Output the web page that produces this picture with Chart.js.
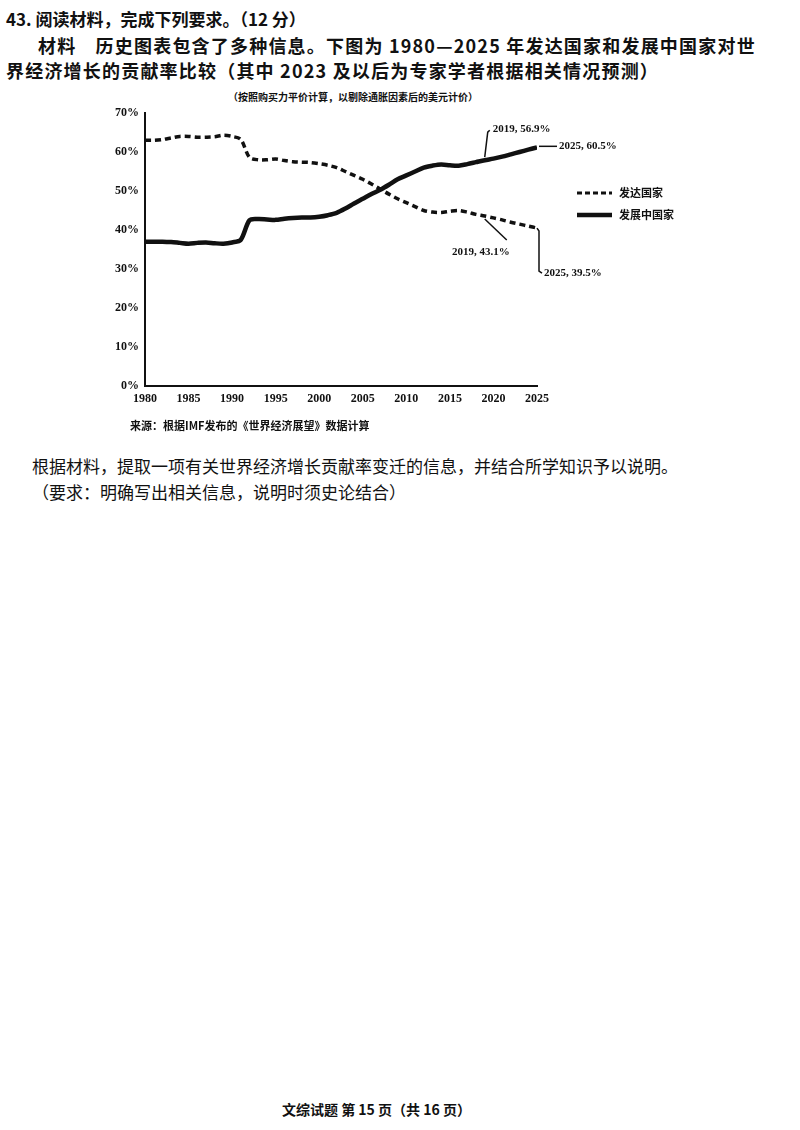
<!DOCTYPE html>
<html><head><meta charset="utf-8">
<script src="https://cdn.jsdelivr.net/npm/chart.js@4"></script>
<style>
body{margin:0;background:#fff;width:800px;height:1130px;position:relative;font-family:"Noto Sans CJK SC";color:#111;}
.t{position:absolute;white-space:nowrap;font-weight:bold;}
#wrap{position:absolute;left:95px;top:100px;width:600px;height:320px;}
</style></head><body>
<div class="t" style="left:6px;top:6px;font-size:17px;">43. 阅读材料，完成下列要求。（12 分）</div>
<div class="t" style="left:38px;top:32px;font-size:18px;letter-spacing:1.2px;">材料　历史图表包含了多种信息。下图为 1980—2025 年发达国家和发展中国家对世</div>
<div class="t" style="left:6px;top:57px;font-size:18px;letter-spacing:1.2px;">界经济增长的贡献率比较（其中 2023 及以后为专家学者根据相关情况预测）</div>
<div class="t" style="left:228px;top:89px;font-size:10px;">（按照购买力平价计算，以剔除通胀因素后的美元计价）</div>
<div id="wrap"><canvas id="c"></canvas></div>
<div class="t" style="left:130px;top:417px;font-size:11px;">来源：根据IMF发布的《世界经济展望》数据计算</div>
<div class="t" style="left:32px;top:453px;font-size:17px;font-weight:normal;">根据材料，提取一项有关世界经济增长贡献率变迁的信息，并结合所学知识予以说明。</div>
<div class="t" style="left:32px;top:479px;font-size:17px;font-weight:normal;">（要求：明确写出相关信息，说明时须史论结合）</div>
<div class="t" style="left:282px;top:1099px;font-size:14px;">文综试题 第 15 页（共 16 页）</div>
<script>
const years=[1980,1981,1982,1983,1984,1985,1986,1987,1988,1989,1990,1991,1992,1993,1994,1995,1996,1997,1998,1999,2000,2001,2002,2003,2004,2005,2006,2007,2008,2009,2010,2011,2012,2013,2014,2015,2016,2017,2018,2019,2020,2021,2022,2023,2024,2025];
const developed=[63,63,63.2,63.6,64,64,63.8,63.8,63.9,64.3,64,63.2,58.6,58,58,58.2,57.8,57.5,57.4,57.3,57,56.6,56,55,54,53,51.8,50.5,49.2,48,47,46,45,44.6,44.5,44.8,45,44.6,44,43.6,43.1,42.6,42,41.5,41,40.5];
const developing=[37,37,37,36.9,36.7,36.5,36.7,36.8,36.6,36.5,36.8,37.5,42.5,42.8,42.7,42.6,42.9,43.1,43.2,43.2,43.4,43.8,44.4,45.5,46.8,48,49.2,50.3,51.6,53,54,55,56,56.5,56.8,56.6,56.5,56.9,57.4,57.9,58.3,58.8,59.4,60,60.6,61.2];
const xTicks=[1980,1985,1990,1995,2000,2005,2010,2015,2020,2025];
const yTicks=[0,10,20,30,40,50,60,70];
const legendLabels=['发达国家','发展中国家'];
const notes=[[2019,56.9,'2019, 56.9%'],[2025,60.5,'2025, 60.5%'],[2019,43.1,'2019, 43.1%'],[2025,39.5,'2025, 39.5%']];
const extra={id:'extra',afterDraw(ch){
 const c=ch.ctx,x=ch.scales.x,y=ch.scales.y;
 c.save();c.fillStyle='#111';c.strokeStyle='#111';c.lineWidth=1.5;
 c.font='bold 11px "Liberation Serif"';c.textBaseline='middle';
 let px=x.getPixelForValue(2019),py=y.getPixelForValue(developing[39]);
 c.beginPath();c.moveTo(px,py-3);c.lineTo(px+3,py-28);c.lineTo(px+5,py-30);c.stroke();
 c.fillText(notes[0][2],px+8,py-31);
 px=x.getPixelForValue(2025);py=y.getPixelForValue(developing[45]);
 c.beginPath();c.moveTo(px+2,py-1);c.lineTo(px+20,py-1);c.stroke();
 c.fillText(notes[1][2],px+22,py-1);
 px=x.getPixelForValue(2019);py=y.getPixelForValue(developed[39]);
 c.beginPath();c.moveTo(px,py+3);c.lineTo(px+22,py+24);c.stroke();
 c.textAlign='right';c.fillText(notes[2][2],px+25,py+36);c.textAlign='left';
 px=x.getPixelForValue(2025);py=y.getPixelForValue(developed[45]);
 c.beginPath();c.moveTo(px,py);c.lineTo(px+2,py+3);c.lineTo(px+2,py+43);c.lineTo(px+5,py+45);c.stroke();
 c.fillText(notes[3][2],px+7,py+45);
 const lx=x.right+40;let ly=y.getPixelForValue(49.5);
 c.font='bold 11px "Noto Sans CJK SC"';
 c.lineWidth=3;c.setLineDash([5,3]);c.beginPath();c.moveTo(lx,ly);c.lineTo(lx+35,ly);c.stroke();
 c.setLineDash([]);c.fillText(legendLabels[0],lx+42,ly);
 ly+=22;c.lineWidth=4.5;c.beginPath();c.moveTo(lx,ly);c.lineTo(lx+35,ly);c.stroke();
 c.fillText(legendLabels[1],lx+42,ly);
 c.restore();}};
new Chart(document.getElementById('c'),{type:'line',
 data:{datasets:[
  {label:legendLabels[0],data:years.map((v,i)=>({x:v,y:developed[i]})),borderColor:'#111',borderWidth:3.5,borderDash:[6,4],pointRadius:0,tension:0.3},
  {label:legendLabels[1],data:years.map((v,i)=>({x:v,y:developing[i]})),borderColor:'#111',borderWidth:4.5,pointRadius:0,tension:0.3}]},
 options:{responsive:true,maintainAspectRatio:false,animation:false,
  layout:{padding:{top:13,right:158,left:0,bottom:0}},
  plugins:{legend:{display:false},tooltip:{enabled:false}},
  scales:{
   x:{type:'linear',min:1980,max:2025,afterFit(s){s.height=34;},
      afterBuildTicks(s){s.ticks=xTicks.map(v=>({value:v}));},
      grid:{display:false,drawTicks:true,tickLength:4,color:'#111'},border:{color:'#111',width:2},
      ticks:{color:'#111',font:{family:'Liberation Serif',weight:'bold',size:12},maxRotation:0,padding:2,callback:v=>String(v)}},
   y:{min:0,max:70,afterFit(s){s.width=50;},
      afterBuildTicks(s){s.ticks=yTicks.map(v=>({value:v}));},
      grid:{display:false,drawTicks:true,tickLength:4,color:'#111'},border:{color:'#111',width:2},
      ticks:{color:'#111',font:{family:'Liberation Serif',weight:'bold',size:12},padding:2,callback:v=>v+'%'}}}},
 plugins:[extra]});
</script></body></html>
